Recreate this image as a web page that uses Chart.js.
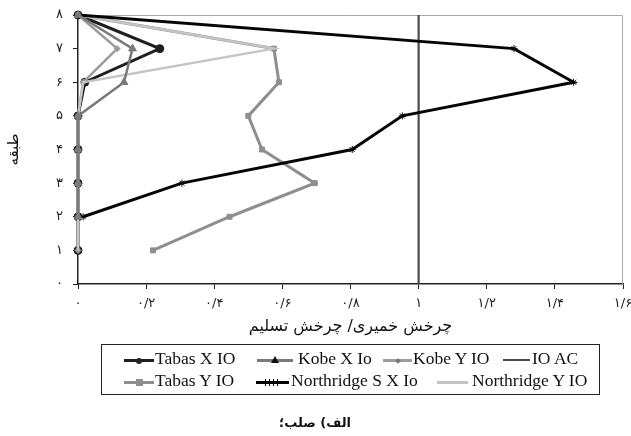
<!DOCTYPE html>
<html>
<head>
<meta charset="utf-8">
<script src="https://cdn.jsdelivr.net/npm/chart.js@4/dist/chart.umd.min.js"></script>
<style>
  html, body { margin: 0; padding: 0; background: #fff; }
  #wrap { position: relative; width: 631px; height: 436px; overflow: hidden; }
  #c { position: absolute; left: 0; top: 0; }
  #legend { position: absolute; left: 101px; top: 344px; width: 497px; height: 49px;
            border: 1.5px solid #222; box-sizing: content-box; }
  .item { position: absolute; height: 20px; }
  .txt { position: absolute; top: 0; white-space: nowrap; font-family: 'Liberation Serif', serif;
         font-size: 17.5px; line-height: 20px; color: #111; }
  .line { position: absolute; top: 11px; }
  .mk { position: absolute; }
  #caption { position: absolute; top: 415px; left: 0; width: 630px; text-align: center;
             font-family: 'DejaVu Sans', sans-serif; font-weight: bold; font-size: 13px; color: #111; }
</style>
</head>
<body>
<div id="wrap">
  <canvas id="c" width="631" height="436"></canvas>
  <div id="legend"></div>
  <div id="caption" dir="rtl">الف) صلب؛</div>
</div>
<script>
// Floors (storey numbers) and plastic / yield rotation ratio per earthquake record
const floors = [1, 2, 3, 4, 5, 6, 7, 8];
const tabasXIO = [0, 0, 0, 0, 0, 0.02, 0.24, 0];
const kobeXIo = [null, 0, 0, 0, 0, 0.135, 0.16, 0];
const kobeYIO = [0, 0, 0, 0, 0, 0.015, 0.115, 0];
const tabasYIO = [0.22, 0.445, 0.695, 0.54, 0.5, 0.59, 0.575, 0];
const northridgeSXIo = [null, 0.015, 0.305, 0.805, 0.952, 1.455, 1.28, 0];
const northridgeYIO = [0, 0, 0, 0, 0, 0.015, 0.575, 0];
// Immediate occupancy acceptance criterion (vertical limit line)
const ioAcRatio = [1, 1];
const ioAcFloors = [0, 8];

const seriesNames = ['Tabas X IO', 'Kobe X Io', 'Kobe Y IO', 'IO AC', 'Tabas Y IO', 'Northridge S X Io', 'Northridge Y IO'];
const xTickLabels = ['۰', '۰/۲', '۰/۴', '۰/۶', '۰/۸', '۱', '۱/۲', '۱/۴', '۱/۶'];
const yTickLabels = ['۰', '۱', '۲', '۳', '۴', '۵', '۶', '۷', '۸'];
const xTitle = 'چرخش خمیری/ چرخش تسلیم';
const yTitle = 'طبقه';

function toPoints(values, ys) {
  const pts = [];
  values.forEach((v, i) => { if (v !== null) pts.push({ x: v, y: ys[i] }); });
  return pts;
}

// Line and marker look of each series; z sets drawing order (lower is drawn on top)
const styles = [
  { color: '#1e1e1e', width: 3, point: 'circle', r: 4, z: 3 },
  { color: '#7a7a7a', width: 2.5, point: 'triangle', r: 4.5, z: -10 },
  { color: '#9c9c9c', width: 2.5, point: 'rectRot', r: 3, z: 2 },
  { color: '#4a4a4a', width: 2.2, point: false, r: 0, z: 1 },
  { color: '#8e8e8e', width: 3, point: 'rect', r: 3.5, z: 0 },
  { color: '#050505', width: 3, point: 'star', r: 3.5, z: -2 },
  { color: '#c4c4c4', width: 2.5, point: false, r: 0, z: -1 }
];

const seriesData = [
  toPoints(tabasXIO, floors),
  toPoints(kobeXIo, floors),
  toPoints(kobeYIO, floors),
  toPoints(ioAcRatio, ioAcFloors),
  toPoints(tabasYIO, floors),
  toPoints(northridgeSXIo, floors),
  toPoints(northridgeYIO, floors)
];

const datasets = seriesData.map((pts, i) => ({
  label: seriesNames[i],
  data: pts,
  showLine: true,
  borderColor: styles[i].color,
  backgroundColor: styles[i].color,
  borderWidth: styles[i].width,
  pointStyle: styles[i].point || 'circle',
  pointRadius: styles[i].r,
  pointBorderWidth: 1,
  pointBorderColor: styles[i].color,
  pointBackgroundColor: styles[i].color,
  tension: 0,
  clip: false,
  order: styles[i].z
}));

// Light frame on the top and right of the plot area
const frame = {
  id: 'frame',
  beforeDatasetsDraw(chart) {
    const { ctx, chartArea: a } = chart;
    ctx.save();
    ctx.strokeStyle = '#a8a8a8';
    ctx.lineWidth = 1;
    ctx.beginPath();
    ctx.moveTo(a.left, a.top + 0.5);
    ctx.lineTo(a.right - 0.5, a.top + 0.5);
    ctx.lineTo(a.right - 0.5, a.bottom);
    ctx.stroke();
    ctx.restore();
  }
};

const tickFont = { family: "'DejaVu Sans', sans-serif", size: 13 };

new Chart(document.getElementById('c'), {
  type: 'scatter',
  data: { datasets },
  plugins: [frame],
  options: {
    responsive: false,
    animation: false,
    events: [],
    layout: { padding: { left: 0, top: 15, right: 8, bottom: 96 } },
    plugins: { legend: { display: false }, tooltip: { enabled: false } },
    scales: {
      x: {
        type: 'linear', min: 0, max: 1.6,
        afterFit: s => { s.height = 56; s.paddingRight = 0; s.paddingLeft = 0; },
        ticks: { stepSize: 0.2, maxRotation: 0, padding: 7, color: '#222', font: tickFont,
                 callback: (v, i) => xTickLabels[i] },
        grid: { drawOnChartArea: false, tickLength: 5, color: '#222', lineWidth: 1 },
        border: { color: '#222', width: 1.5 },
        title: { display: true, text: xTitle, color: '#111',
                 font: { family: "'DejaVu Sans', sans-serif", size: 16 }, padding: { top: 4, bottom: 4 } }
      },
      y: {
        type: 'linear', min: 0, max: 8,
        afterFit: s => { s.width = 78; s.paddingTop = 0; s.paddingBottom = 0; },
        ticks: { stepSize: 1, padding: 10, color: '#222', font: tickFont,
                 callback: (v, i) => yTickLabels[i] },
        grid: { drawOnChartArea: false, tickLength: 5, color: '#222', lineWidth: 1 },
        border: { color: '#222', width: 1.5 },
        title: { display: true, text: yTitle, color: '#111',
                 font: { family: "'DejaVu Sans', sans-serif", size: 15 }, padding: { top: 5, bottom: 0 } }
      }
    }
  }
});

// Legend: two rows of line samples with marker and series name
const legendSlots = [
  { row: 0, line: 22, w: 30, text: 53 },
  { row: 0, line: 155, w: 36, text: 196 },
  { row: 0, line: 281, w: 29, text: 311 },
  { row: 0, line: 401, w: 27, text: 430 },
  { row: 1, line: 22, w: 30, text: 53 },
  { row: 1, line: 154, w: 33, text: 189 },
  { row: 1, line: 335, w: 31, text: 370 }
];
const legend = document.getElementById('legend');
seriesNames.forEach((name, i) => {
  const s = legendSlots[i], st = styles[i];
  const item = document.createElement('div');
  item.className = 'item';
  item.style.left = '0px';
  item.style.top = (s.row === 0 ? 3 : 25) + 'px';
  const ln = document.createElement('div');
  ln.className = 'line';
  ln.style.left = s.line + 'px';
  ln.style.width = s.w + 'px';
  ln.style.height = Math.round(st.width) + 'px';
  ln.style.background = st.color;
  item.appendChild(ln);
  const cx = s.line + s.w / 2, cy = 11 + Math.round(st.width) / 2;
  if (st.point) {
    const m = document.createElement('div');
    m.className = 'mk';
    if (st.point === 'circle') {
      Object.assign(m.style, { width: '6px', height: '6px', borderRadius: '50%', background: '#222',
        left: (cx - 3) + 'px', top: (cy - 3) + 'px' });
    } else if (st.point === 'triangle') {
      Object.assign(m.style, { width: 0, height: 0, borderLeft: '4px solid transparent',
        borderRight: '4px solid transparent', borderBottom: '7px solid #111',
        left: (cx - 4) + 'px', top: (cy - 5) + 'px' });
    } else if (st.point === 'rectRot') {
      Object.assign(m.style, { width: '4px', height: '4px', background: '#777', transform: 'rotate(45deg)',
        left: (cx - 2) + 'px', top: (cy - 2) + 'px' });
    } else if (st.point === 'rect') {
      Object.assign(m.style, { width: '7px', height: '7px', background: '#8e8e8e',
        left: (cx - 3.5) + 'px', top: (cy - 3.5) + 'px' });
    } else if (st.point === 'star') {
      Object.assign(m.style, { width: '16px', height: '7px',
        background: 'repeating-linear-gradient(90deg, #000 0 1px, transparent 1px 4px)',
        left: (cx - 8) + 'px', top: (cy - 3.5) + 'px' });
    }
    item.appendChild(m);
  }
  const t = document.createElement('div');
  t.className = 'txt';
  t.style.left = s.text + 'px';
  t.textContent = name;
  item.appendChild(t);
  legend.appendChild(item);
});
</script>
</body>
</html>
